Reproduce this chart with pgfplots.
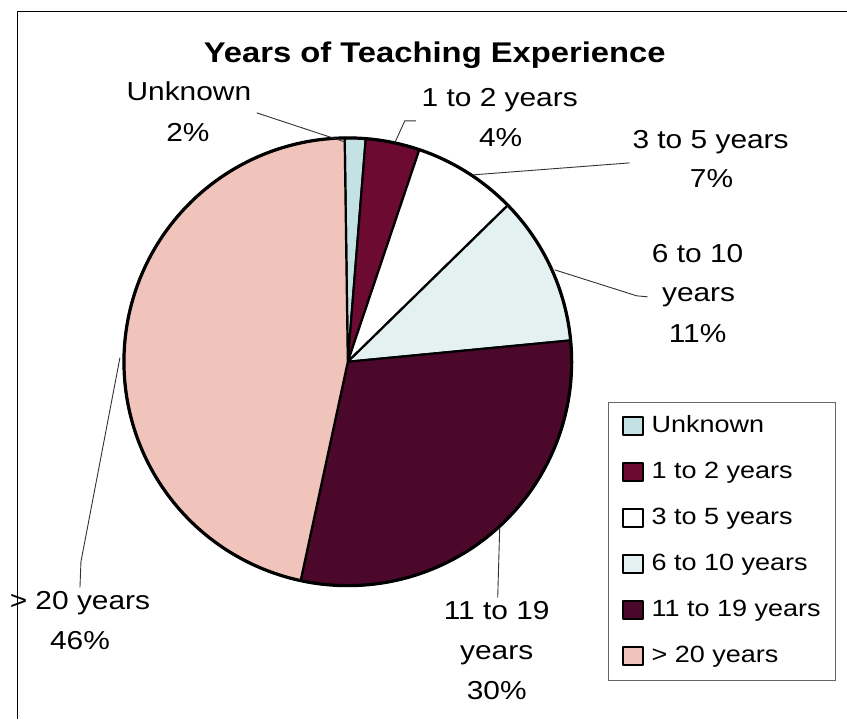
\documentclass[border=0pt]{standalone}
\usepackage{pgfplots}
\pgfplotsset{compat=1.18}
\usepackage{pgfplotstable}
\usepackage{fontspec}
\setmainfont{Liberation Sans}[FakeStretch=1.15]

\definecolor{unkC}{RGB}{196,226,228}
\definecolor{oneC}{RGB}{108,10,50}
\definecolor{threeC}{RGB}{255,255,255}
\definecolor{sixC}{RGB}{228,241,241}
\definecolor{elevenC}{RGB}{76,8,42}
\definecolor{twentyC}{RGB}{240,196,186}
\definecolor{leadC}{RGB}{50,50,50}

\pgfplotstableread[col sep=comma]{
label,pct
Unknown,1.5
1 to 2 years,3.9
3 to 5 years,7.5
6 to 10 years,10.8
11 to 19 years,29.9
> 20 years,46.4
}\piedata

\begin{document}
\begin{tikzpicture}
\pgfplotstablegetelem{0}{pct}\of\piedata\pgfmathsetmacro\pA{\pgfplotsretval}
\pgfplotstablegetelem{1}{pct}\of\piedata\pgfmathsetmacro\pB{\pgfplotsretval}
\pgfplotstablegetelem{2}{pct}\of\piedata\pgfmathsetmacro\pC{\pgfplotsretval}
\pgfplotstablegetelem{3}{pct}\of\piedata\pgfmathsetmacro\pD{\pgfplotsretval}
\pgfplotstablegetelem{4}{pct}\of\piedata\pgfmathsetmacro\pE{\pgfplotsretval}
\pgfplotstablegetelem{5}{pct}\of\piedata\pgfmathsetmacro\pF{\pgfplotsretval}
\pgfmathsetmacro\tA{-0.8}
\pgfmathsetmacro\tB{\tA+3.6*\pA}
\pgfmathsetmacro\tC{\tB+3.6*\pB}
\pgfmathsetmacro\tD{\tC+3.6*\pC}
\pgfmathsetmacro\tE{\tD+3.6*\pD}
\pgfmathsetmacro\tF{\tE+3.6*\pE}
\pgfmathsetmacro\tG{\tF+3.6*\pF}
\begin{axis}[
  x=1pt, y=1pt, xmin=0, xmax=847, ymin=0, ymax=719,
  hide axis, clip=false,
  legend style={at={(axis cs:608,317)}, anchor=north west,
    draw=black!60, line width=0.8pt,
    font=\fontsize{23.5}{28}\selectfont,
    inner xsep=14pt, inner ysep=12pt, row sep=22pt,
    nodes={inner sep=1pt, text height=17pt, text depth=5pt},
    cells={anchor=west},
    /tikz/every odd column/.append style={column sep=7pt}},
  legend image code/.code={\draw[#1, draw=black, line width=1.5pt] (0pt,-9pt) rectangle (20pt,9pt);},
]
\path (axis cs:0,0) rectangle (axis cs:847,719);

\addplot[fill=unkC, draw=black, line width=2.2pt, line join=round, domain=\tA:\tB, samples=20]
  ({348+224*sin(x)},{357+224*cos(x)}) -- (axis cs:348,357) -- cycle;
\addlegendentry{Unknown}
\addplot[fill=oneC, draw=black, line width=2.2pt, line join=round, domain=\tB:\tC, samples=30]
  ({348+224*sin(x)},{357+224*cos(x)}) -- (axis cs:348,357) -- cycle;
\addlegendentry{1 to 2 years}
\addplot[fill=threeC, draw=black, line width=2.2pt, line join=round, domain=\tC:\tD, samples=40]
  ({348+224*sin(x)},{357+224*cos(x)}) -- (axis cs:348,357) -- cycle;
\addlegendentry{3 to 5 years}
\addplot[fill=sixC, draw=black, line width=2.2pt, line join=round, domain=\tD:\tE, samples=50]
  ({348+224*sin(x)},{357+224*cos(x)}) -- (axis cs:348,357) -- cycle;
\addlegendentry{6 to 10 years}
\addplot[fill=elevenC, draw=black, line width=2.2pt, line join=round, domain=\tE:\tF, samples=100]
  ({348+224*sin(x)},{357+224*cos(x)}) -- (axis cs:348,357) -- cycle;
\addlegendentry{11 to 19 years}
\addplot[fill=twentyC, draw=black, line width=2.2pt, line join=round, domain=\tF:\tG, samples=150]
  ({348+224*sin(x)},{357+224*cos(x)}) -- (axis cs:348,357) -- cycle;
\addlegendentry{> 20 years}
\addplot[forget plot, draw=black, line width=3.2pt, domain=0:360, samples=300]
  ({348+224*sin(x)},{357+224*cos(x)});

% frame
\draw[black, line width=1pt] (axis cs:847,707) -- (axis cs:18,707) -- (axis cs:18,0);

% leader lines
\draw[leadC, line width=0.9pt] (axis cs:257,606) -- (axis cs:345,577);
\draw[leadC, line width=0.9pt] (axis cs:416,598) -- (axis cs:405,598) -- (axis cs:395,576);
\draw[leadC, line width=0.9pt] (axis cs:630,556) -- (axis cs:473,544);
\draw[leadC, line width=0.9pt] (axis cs:648,422) -- (axis cs:637,423) -- (axis cs:555,449);
\draw[leadC, line width=0.9pt] (axis cs:498,121) -- (axis cs:500,191);
\draw[leadC, line width=0.9pt] (axis cs:80,131) -- (axis cs:81,157) -- (axis cs:120,361);

% title
\node[anchor=base, font=\bfseries\fontsize{28.5}{34}\selectfont] at (axis cs:435,656) {Years of Teaching Experience};

% labels
\begin{scope}[every node/.style={anchor=base, font=\fontsize{26}{30}\selectfont, inner sep=0pt}]
\node at (axis cs:189,618) {Unknown};
\node at (axis cs:188,577) {2\%};
\node at (axis cs:500,612) {1 to 2 years};
\node at (axis cs:501,572) {4\%};
\node at (axis cs:711,570) {3 to 5 years};
\node at (axis cs:712,531) {7\%};
\node at (axis cs:698,456) {6 to 10};
\node at (axis cs:699,417) {years};
\node at (axis cs:698,376) {11\%};
\node at (axis cs:497,99) {11 to 19};
\node at (axis cs:497,59) {years};
\node at (axis cs:497,19) {30\%};
\node at (axis cs:80,109) {> 20 years};
\node at (axis cs:80,69) {46\%};
\end{scope}
\end{axis}
\end{tikzpicture}
\end{document}
